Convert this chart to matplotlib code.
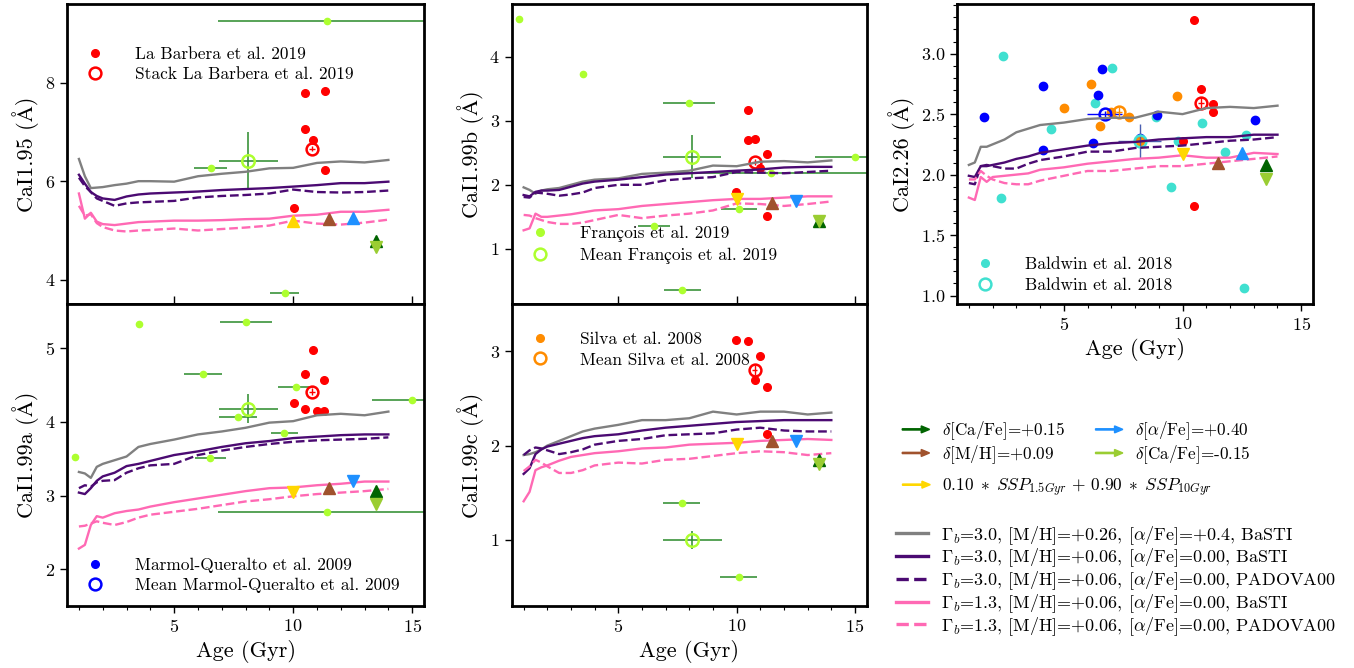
import matplotlib
matplotlib.use('Agg')
import matplotlib.pyplot as plt
import matplotlib.patches as mpatches
from matplotlib.legend_handler import HandlerPatch
from matplotlib.lines import Line2D
from matplotlib.ticker import MultipleLocator

plt.rcParams['font.family'] = ['cmr10', 'STIXGeneral', 'DejaVu Serif']
plt.rcParams['mathtext.fontset'] = 'cm'
plt.rcParams['axes.unicode_minus'] = False
plt.rcParams['axes.formatter.use_mathtext'] = True
plt.rcParams['axes.linewidth'] = 2.0

# ---------------- model grids ----------------
ages = [1.0, 1.25, 1.5, 1.75, 2.0, 2.5, 3.0, 3.5, 4.0, 5.0, 6.0, 7.0, 8.0, 9.0, 10.0, 11.0, 12.0, 13.0, 14.0]

# CaI1.95
cai195_g30_mh026 = [6.45, 6.10, 5.86, 5.87, 5.88, 5.92, 5.95, 6.00, 6.00, 5.99, 6.10, 6.15, 6.19, 6.26, 6.27, 6.37, 6.40, 6.38, 6.43]
cai195_g30_basti = [6.13, 5.95, 5.78, 5.70, 5.65, 5.62, 5.69, 5.73, 5.75, 5.77, 5.79, 5.82, 5.84, 5.86, 5.89, 5.92, 5.96, 5.96, 5.99]
cai195_g30_padova = [6.07, 5.90, 5.78, 5.65, 5.60, 5.50, 5.55, 5.57, 5.58, 5.60, 5.67, 5.70, 5.72, 5.75, 5.83, 5.78, 5.77, 5.78, 5.81]
cai195_g13_basti = [5.75, 5.24, 5.36, 5.18, 5.13, 5.11, 5.14, 5.17, 5.18, 5.20, 5.20, 5.21, 5.23, 5.24, 5.30, 5.32, 5.38, 5.38, 5.42]
cai195_g13_padova = [5.50, 5.30, 5.33, 5.15, 5.07, 5.00, 4.98, 5.00, 5.01, 5.04, 5.00, 5.03, 5.06, 5.10, 5.20, 5.14, 5.12, 5.16, 5.22]

# CaI1.99a
cai199a_g30_mh026 = [3.32, 3.30, 3.24, 3.39, 3.43, 3.48, 3.53, 3.66, 3.70, 3.76, 3.83, 3.87, 3.92, 3.99, 4.01, 4.09, 4.11, 4.09, 4.14]
cai199a_g30_basti = [3.04, 3.02, 3.10, 3.20, 3.26, 3.31, 3.40, 3.43, 3.47, 3.55, 3.60, 3.66, 3.71, 3.74, 3.78, 3.80, 3.82, 3.83, 3.83]
cai199a_g30_padova = [3.10, 3.14, 3.12, 3.18, 3.20, 3.21, 3.31, 3.37, 3.41, 3.43, 3.55, 3.61, 3.66, 3.70, 3.73, 3.75, 3.76, 3.77, 3.79]
cai199a_g13_basti = [2.28, 2.33, 2.60, 2.72, 2.70, 2.76, 2.79, 2.81, 2.85, 2.91, 2.96, 3.01, 3.06, 3.10, 3.11, 3.14, 3.16, 3.19, 3.19]
cai199a_g13_padova = [2.58, 2.59, 2.62, 2.65, 2.63, 2.60, 2.64, 2.70, 2.74, 2.78, 2.82, 2.87, 2.92, 2.95, 2.99, 3.02, 3.04, 3.06, 3.09]

# CaI1.99b
cai199b_g30_mh026 = [1.96, 1.92, 1.86, 1.91, 1.93, 1.95, 2.00, 2.05, 2.08, 2.10, 2.17, 2.19, 2.22, 2.30, 2.29, 2.36, 2.37, 2.35, 2.38]
cai199b_g30_basti = [1.84, 1.82, 1.89, 1.91, 1.91, 1.92, 1.97, 2.02, 2.05, 2.08, 2.12, 2.16, 2.18, 2.20, 2.22, 2.24, 2.27, 2.28, 2.28]
cai199b_g30_padova = [1.81, 1.80, 1.88, 1.87, 1.86, 1.83, 1.85, 1.88, 1.95, 2.00, 2.00, 2.07, 2.10, 2.12, 2.20, 2.19, 2.18, 2.20, 2.22]
cai199b_g13_basti = [1.29, 1.32, 1.55, 1.50, 1.50, 1.52, 1.54, 1.57, 1.60, 1.62, 1.67, 1.70, 1.73, 1.76, 1.78, 1.78, 1.80, 1.82, 1.82]
cai199b_g13_padova = [1.53, 1.52, 1.48, 1.45, 1.42, 1.39, 1.39, 1.41, 1.45, 1.53, 1.48, 1.52, 1.55, 1.60, 1.71, 1.70, 1.67, 1.70, 1.74]

# CaI1.99c
cai199c_g30_mh026 = [1.90, 1.91, 1.93, 1.96, 2.00, 2.05, 2.10, 2.15, 2.18, 2.22, 2.27, 2.27, 2.29, 2.36, 2.33, 2.36, 2.36, 2.33, 2.35]
cai199c_g30_basti = [1.70, 1.76, 1.91, 1.96, 1.99, 2.02, 2.05, 2.08, 2.10, 2.12, 2.16, 2.19, 2.21, 2.23, 2.25, 2.26, 2.27, 2.27, 2.27]
cai199c_g30_padova = [1.90, 1.95, 1.98, 1.97, 1.95, 1.91, 1.93, 1.96, 2.01, 2.05, 2.07, 2.11, 2.12, 2.13, 2.17, 2.19, 2.16, 2.15, 2.15]
cai199c_g13_basti = [1.41, 1.51, 1.74, 1.77, 1.79, 1.84, 1.88, 1.90, 1.92, 1.94, 1.97, 1.98, 2.01, 2.02, 2.03, 2.05, 2.06, 2.07, 2.06]
cai199c_g13_padova = [1.73, 1.78, 1.85, 1.82, 1.78, 1.71, 1.71, 1.74, 1.79, 1.82, 1.81, 1.85, 1.86, 1.89, 1.92, 1.94, 1.93, 1.90, 1.92]

# CaI2.26
cai226_g30_mh026 = [2.08, 2.10, 2.23, 2.23, 2.25, 2.29, 2.35, 2.38, 2.41, 2.43, 2.46, 2.47, 2.47, 2.52, 2.50, 2.55, 2.56, 2.55, 2.57]
cai226_g30_basti = [1.99, 1.98, 2.07, 2.07, 2.08, 2.10, 2.13, 2.15, 2.18, 2.21, 2.24, 2.26, 2.27, 2.29, 2.30, 2.31, 2.31, 2.33, 2.33]
cai226_g30_padova = [1.93, 1.92, 2.07, 2.08, 2.07, 2.05, 2.05, 2.09, 2.12, 2.15, 2.19, 2.19, 2.22, 2.23, 2.24, 2.26, 2.28, 2.29, 2.31]
cai226_g13_basti = [1.81, 1.79, 1.98, 1.94, 1.98, 1.99, 2.00, 2.01, 2.04, 2.06, 2.09, 2.11, 2.13, 2.14, 2.16, 2.14, 2.14, 2.18, 2.17]
cai226_g13_padova = [1.96, 1.96, 2.03, 1.99, 1.96, 1.93, 1.92, 1.92, 1.95, 1.99, 2.03, 2.03, 2.05, 2.07, 2.07, 2.09, 2.11, 2.13, 2.15]

# ---------------- model-variation markers ----------------
var_x = [10.0, 11.5, 12.5, 13.5, 13.5]
var_colors = ['gold', 'sienna', 'dodgerblue', 'darkgreen', 'yellowgreen']
cai195_var_y = [5.20, 5.23, 5.26, 4.78, 4.66]
cai195_var_m = ['^', '^', '^', '^', 'v']
cai199a_var_y = [3.05, 3.10, 3.20, 3.06, 2.89]
cai199a_var_m = ['v', '^', 'v', '^', 'v']
cai199b_var_y = [1.78, 1.72, 1.74, 1.44, 1.43]
cai199b_var_m = ['v', '^', 'v', '^', 'v']
cai199c_var_y = [2.02, 2.05, 2.05, 1.85, 1.80]
cai199c_var_m = ['v', '^', 'v', '^', 'v']
cai226_var_y = [2.17, 2.10, 2.18, 2.08, 1.96]
cai226_var_m = ['v', '^', '^', '^', 'v']

# ---------------- observations ----------------
# La Barbera et al. 2019
lb195_x = [10.50, 11.32, 10.50, 10.83, 11.32, 10.03]
lb195_y = [7.79, 7.82, 7.06, 6.83, 6.22, 5.45]
lb195_stack = [10.78, 6.66]
lb199a_x = [10.82, 10.50, 11.31, 10.02, 10.50, 11.00, 11.31]
lb199a_y = [4.97, 4.65, 4.57, 4.25, 4.17, 4.15, 4.15]
lb199a_stack = [10.78, 4.41]
lb199b_x = [10.48, 10.48, 10.79, 11.28, 10.97, 9.97, 11.28]
lb199b_y = [3.17, 2.70, 2.71, 2.48, 2.26, 1.89, 1.52]
lb199b_stack = [10.76, 2.36]
lb199c_x = [9.97, 10.48, 10.97, 10.79, 11.28, 11.28]
lb199c_y = [3.12, 3.11, 2.95, 2.70, 2.62, 2.12]
lb199c_stack = [10.76, 2.80]
lb226_x = [10.49, 10.78, 11.29, 11.29, 10.00, 10.49]
lb226_y = [3.28, 2.71, 2.58, 2.52, 2.28, 1.74]
lb226_stack = [10.77, 2.59]

# François et al. 2019
fr195_x = [11.43, 6.53, 9.64]
fr195_y = [9.25, 6.26, 3.74]
fr195_xerr = [4.6, 0.69, 0.60]
fr195_mean = [8.12, 6.41, 1.23, 0.58]
fr199a_x = [3.53, 8.02, 6.22, 10.10, 15.00, 7.70, 9.63, 6.51, 11.43, 0.85]
fr199a_y = [5.33, 5.35, 4.65, 4.47, 4.30, 4.06, 3.85, 3.51, 2.77, 3.53]
fr199a_xerr = [0.08, 1.10, 0.80, 0.73, 1.70, 0.80, 0.58, 0.65, 4.60, 0.05]
fr199a_mean = [8.11, 4.18, 1.24, 0.20]
fr199b_x = [0.80, 3.50, 8.00, 15.00, 11.43, 10.10, 6.50, 7.70]
fr199b_y = [4.58, 3.73, 3.28, 2.44, 2.18, 1.62, 1.35, 0.36]
fr199b_xerr = [0.08, 0.08, 1.10, 1.70, 4.60, 0.78, 0.67, 0.79]
fr199b_mean = [8.12, 2.44, 1.23, 0.34]
fr199c_x = [7.67, 10.08]
fr199c_y = [1.39, 0.61]
fr199c_xerr = [0.79, 0.79]
fr199c_mean = [8.12, 1.00, 1.25, 0.10]

# Marmol-Queralto et al. 2009 (CaI2.26)
mq226_x = [1.64, 4.12, 4.12, 6.61, 6.43, 6.22, 8.92, 8.22, 13.04]
mq226_y = [2.48, 2.73, 2.20, 2.87, 2.66, 2.26, 2.49, 2.30, 2.45]
mq226_mean = [6.72, 2.50, 0.75, 0.03]
# Silva et al. 2008 (CaI2.26)
si226_x = [6.15, 5.00, 6.99, 7.76, 6.52, 9.76, 8.22]
si226_y = [2.75, 2.55, 2.52, 2.48, 2.40, 2.65, 2.28]
si226_mean = [7.31, 2.52, 0.12, 0.04]
# Baldwin et al. 2018 (CaI2.26)
ba226_x = [2.43, 2.34, 4.44, 6.31, 7.01, 8.89, 9.51, 9.79, 10.80, 11.80, 12.69, 12.59]
ba226_y = [2.98, 1.81, 2.38, 2.59, 2.88, 2.48, 1.90, 2.28, 2.43, 2.19, 2.33, 1.06]
ba226_mean = [8.19, 2.28, 0.90, 0.14]

# ---------------- styles ----------------
C_GRAY, C_PUR, C_PINK = 'grey', '#4b0a72', 'hotpink'
C_FR, C_FRERR = 'greenyellow', '#2a8a2a'


def draw_models(ax, g30mh, g30b, g30p, g13b, g13p):
    ax.plot(ages, g30mh, color=C_GRAY, lw=1.7, zorder=3)
    ax.plot(ages, g30b, color=C_PUR, lw=1.7, zorder=3)
    ax.plot(ages, g30p, color=C_PUR, lw=1.7, ls='--', zorder=3)
    ax.plot(ages, g13b, color=C_PINK, lw=1.7, zorder=3)
    ax.plot(ages, g13p, color=C_PINK, lw=1.7, ls='--', zorder=3)


def draw_vars(ax, ys, ms):
    for x, y, c, m in zip(var_x, ys, var_colors, ms):
        ax.plot([x], [y], marker=m, color=c, ms=8, ls='none', zorder=5)


def draw_lb(ax, xs, ys, stack):
    ax.plot(xs, ys, 'o', color='red', ms=5.5, zorder=2)
    ax.errorbar([stack[0]], [stack[1]], xerr=[0.12], yerr=[0.05], fmt='o', ms=8.5,
                mfc='none', mec='red', mew=1.8, ecolor='red', elinewidth=1.0, zorder=2)


def draw_fr(ax, xs, ys, xerr, mean):
    ax.errorbar(xs, ys, xerr=xerr, fmt='o', ms=4.5, mfc=C_FR, mec=C_FR,
                ecolor=C_FRERR, elinewidth=1.1, capsize=0, zorder=1)
    ax.errorbar([mean[0]], [mean[1]], xerr=[mean[2]], yerr=[mean[3]], fmt='o', ms=9,
                mfc='none', mec=C_FR, mew=1.8, ecolor=C_FRERR, elinewidth=1.1, zorder=2)


def style(ax, ylim, ymaj, bottom_labels, yminor=None):
    ax.set_xlim(0.5, 15.5)
    ax.set_ylim(*ylim)
    ax.xaxis.set_major_locator(MultipleLocator(5))
    ax.yaxis.set_major_locator(MultipleLocator(ymaj))
    ax.tick_params(axis='both', which='major', labelsize=13, length=5, width=1.0)
    ax.tick_params(axis='both', which='minor', length=3, width=0.8)
    if bottom_labels:
        ax.xaxis.set_minor_locator(MultipleLocator(1))
        ax.set_xlabel('Age (Gyr)', fontsize=16)
    else:
        ax.tick_params(axis='x', which='major', direction='in', labelbottom=False, length=6)
    if yminor is not None:
        ax.yaxis.set_minor_locator(MultipleLocator(yminor))


fig = plt.figure(figsize=(13.54, 6.68), dpi=100)
ax1 = fig.add_axes([0.0495, 0.5449, 0.2637, 0.449])
ax4 = fig.add_axes([0.0495, 0.0928, 0.2637, 0.452])
ax2 = fig.add_axes([0.378, 0.5449, 0.2622, 0.449])
ax3 = fig.add_axes([0.378, 0.0928, 0.2622, 0.452])
ax5 = fig.add_axes([0.7068, 0.5449, 0.263, 0.449])

leg_kw = dict(frameon=False, fontsize=12.5, handletextpad=1.3, labelspacing=0.3, borderaxespad=0.2)

# Panel CaI1.95
draw_fr(ax1, fr195_x, fr195_y, fr195_xerr, fr195_mean)
draw_lb(ax1, lb195_x, lb195_y, lb195_stack)
draw_models(ax1, cai195_g30_mh026, cai195_g30_basti, cai195_g30_padova, cai195_g13_basti, cai195_g13_padova)
draw_vars(ax1, cai195_var_y, cai195_var_m)
style(ax1, (3.51, 9.59), 2, False)
ax1.set_ylabel('CaI1.95 (Å)', fontsize=16)
h1 = [Line2D([], [], marker='o', ls='none', color='red', ms=5.5),
      Line2D([], [], marker='o', ls='none', mfc='none', mec='red', mew=1.8, ms=8.5)]
ax1.legend(h1, ['La Barbera et al. 2019', 'Stack La Barbera et al. 2019'],
           loc='upper left', bbox_to_anchor=(0.0, 0.893), **leg_kw)

# Panel CaI1.99a
draw_fr(ax4, fr199a_x, fr199a_y, fr199a_xerr, fr199a_mean)
draw_lb(ax4, lb199a_x, lb199a_y, lb199a_stack)
draw_models(ax4, cai199a_g30_mh026, cai199a_g30_basti, cai199a_g30_padova, cai199a_g13_basti, cai199a_g13_padova)
draw_vars(ax4, cai199a_var_y, cai199a_var_m)
style(ax4, (1.5, 5.6), 1, True)
ax4.set_ylabel('CaI1.99a (Å)', fontsize=16)
h4 = [Line2D([], [], marker='o', ls='none', color='blue', ms=5.5),
      Line2D([], [], marker='o', ls='none', mfc='none', mec='blue', mew=1.8, ms=8.5)]
ax4.legend(h4, ['Marmol-Queralto et al. 2009', 'Mean Marmol-Queralto et al. 2009'],
           loc='lower left', bbox_to_anchor=(0.0, 0.007), **leg_kw)

# Panel CaI1.99b
draw_fr(ax2, fr199b_x, fr199b_y, fr199b_xerr, fr199b_mean)
draw_lb(ax2, lb199b_x, lb199b_y, lb199b_stack)
draw_models(ax2, cai199b_g30_mh026, cai199b_g30_basti, cai199b_g30_padova, cai199b_g13_basti, cai199b_g13_padova)
draw_vars(ax2, cai199b_var_y, cai199b_var_m)
style(ax2, (0.14, 4.82), 1, False)
ax2.set_ylabel('CaI1.99b (Å)', fontsize=16)
h2 = [Line2D([], [], marker='o', ls='none', color=C_FR, ms=5.5),
      Line2D([], [], marker='o', ls='none', mfc='none', mec=C_FR, mew=1.8, ms=8.5)]
ax2.legend(h2, ['François et al. 2019', 'Mean François et al. 2019'],
           loc='lower left', bbox_to_anchor=(0.0, 0.1), **leg_kw)

# Panel CaI1.99c
draw_fr(ax3, fr199c_x, fr199c_y, fr199c_xerr, fr199c_mean)
draw_lb(ax3, lb199c_x, lb199c_y, lb199c_stack)
draw_models(ax3, cai199c_g30_mh026, cai199c_g30_basti, cai199c_g30_padova, cai199c_g13_basti, cai199c_g13_padova)
draw_vars(ax3, cai199c_var_y, cai199c_var_m)
style(ax3, (0.3, 3.5), 1, True)
ax3.set_ylabel('CaI1.99c (Å)', fontsize=16)
h3 = [Line2D([], [], marker='o', ls='none', color='darkorange', ms=5.5),
      Line2D([], [], marker='o', ls='none', mfc='none', mec='darkorange', mew=1.8, ms=8.5)]
ax3.legend(h3, ['Silva et al. 2008', 'Mean Silva et al. 2008'],
           loc='upper left', bbox_to_anchor=(0.0, 0.943), **leg_kw)

# Panel CaI2.26
ax5.plot(ba226_x, ba226_y, 'o', color='turquoise', ms=6, zorder=2)
ax5.plot(mq226_x, mq226_y, 'o', color='blue', ms=6, zorder=2)
ax5.plot(si226_x, si226_y, 'o', color='darkorange', ms=6, zorder=2)
ax5.errorbar([mq226_mean[0]], [mq226_mean[1]], xerr=[mq226_mean[2]], yerr=[mq226_mean[3]], fmt='o',
             ms=8.5, mfc='none', mec='blue', mew=1.8, ecolor='blue', elinewidth=1.0, zorder=2)
ax5.errorbar([si226_mean[0]], [si226_mean[1]], xerr=[si226_mean[2]], yerr=[si226_mean[3]], fmt='o',
             ms=8.5, mfc='none', mec='darkorange', mew=1.8, ecolor='darkorange', elinewidth=1.0, zorder=2)
ax5.errorbar([ba226_mean[0]], [ba226_mean[1]], xerr=[ba226_mean[2]], yerr=[ba226_mean[3]], fmt='o',
             ms=8.5, mfc='none', mec='turquoise', mew=1.8, ecolor='#4a5fb0', elinewidth=1.0, zorder=2)
draw_lb(ax5, lb226_x, lb226_y, lb226_stack)
draw_models(ax5, cai226_g30_mh026, cai226_g30_basti, cai226_g30_padova, cai226_g13_basti, cai226_g13_padova)
draw_vars(ax5, cai226_var_y, cai226_var_m)
style(ax5, (0.93, 3.41), 0.5, True, yminor=0.1)
ax5.set_ylabel('CaI2.26 (Å)', fontsize=16)
h5 = [Line2D([], [], marker='o', ls='none', color='turquoise', ms=5.5),
      Line2D([], [], marker='o', ls='none', mfc='none', mec='turquoise', mew=1.8, ms=8.5)]
ax5.legend(h5, ['Baldwin et al. 2018', 'Baldwin et al. 2018'],
           loc='lower left', bbox_to_anchor=(0.0, 0.003), **leg_kw)


# ---------------- figure legends ----------------
class HandlerArrow(HandlerPatch):
    def create_artists(self, legend, orig_handle, xdescent, ydescent, width, height, fontsize, trans):
        p = mpatches.FancyArrow(-xdescent, -ydescent + 0.5 * height, width, 0,
                                width=0.9, head_width=5.0, head_length=6.0,
                                length_includes_head=True,
                                color=orig_handle.get_facecolor())
        p.set_transform(trans)
        return [p]


var_labels = [r'$\delta$[Ca/Fe]=+0.15', r'$\delta$[M/H]=+0.09',
              r'$\delta$[$\alpha$/Fe]=+0.40', r'$\delta$[Ca/Fe]=-0.15']
var_leg_colors = ['darkgreen', 'sienna', 'dodgerblue', 'yellowgreen']
arrows = [mpatches.FancyArrow(0, 0, 1, 0, color=c) for c in var_leg_colors]
fig.legend(arrows, var_labels, ncol=2, loc='upper left', bbox_to_anchor=(0.655, 0.395),
           frameon=False, fontsize=12.3, handlelength=1.6, handletextpad=0.7,
           columnspacing=1.8, labelspacing=0.05,
           handler_map={mpatches.FancyArrow: HandlerArrow()})

arrow_mix = [mpatches.FancyArrow(0, 0, 1, 0, color='gold')]
fig.legend(arrow_mix, [r'$0.10\;\ast\;SSP_{1.5Gyr}\,+\,0.90\;\ast\;SSP_{10Gyr}$'], loc='upper left',
           bbox_to_anchor=(0.655, 0.31), frameon=False, fontsize=12.5, handlelength=1.6,
           handletextpad=0.7, handler_map={mpatches.FancyArrow: HandlerArrow()})

line_handles = [Line2D([], [], color=C_GRAY, lw=2.4),
                Line2D([], [], color=C_PUR, lw=2.4),
                Line2D([], [], color=C_PUR, lw=2.4, ls='--'),
                Line2D([], [], color=C_PINK, lw=2.4),
                Line2D([], [], color=C_PINK, lw=2.4, ls='--')]
line_labels = [r'$\Gamma_b$=3.0, [M/H]=+0.26, [$\alpha$/Fe]=+0.4, BaSTI',
               r'$\Gamma_b$=3.0, [M/H]=+0.06, [$\alpha$/Fe]=0.00, BaSTI',
               r'$\Gamma_b$=3.0, [M/H]=+0.06, [$\alpha$/Fe]=0.00, PADOVA00',
               r'$\Gamma_b$=1.3, [M/H]=+0.06, [$\alpha$/Fe]=0.00, BaSTI',
               r'$\Gamma_b$=1.3, [M/H]=+0.06, [$\alpha$/Fe]=0.00, PADOVA00']
fig.legend(line_handles, line_labels, loc='upper left', bbox_to_anchor=(0.65, 0.24),
           frameon=False, fontsize=13, handlelength=1.75, handletextpad=0.7, labelspacing=0.0)

fig.savefig('out.png', dpi=100)
